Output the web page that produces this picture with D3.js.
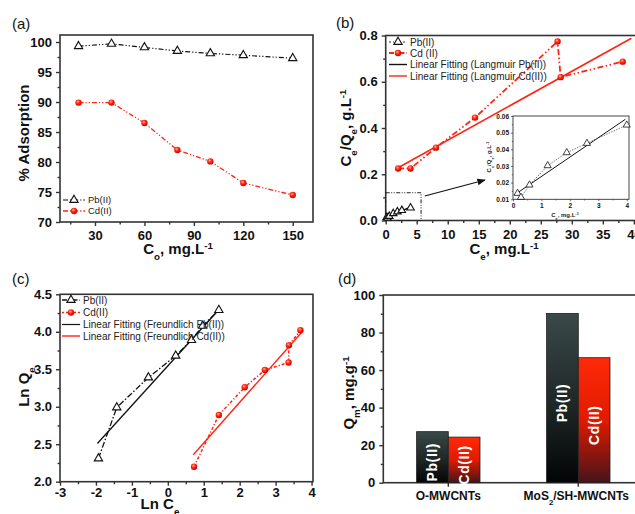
<!DOCTYPE html>
<html>
<head>
<meta charset="utf-8">
<script src="https://cdn.jsdelivr.net/npm/d3@7"></script>
<style>
  body { margin: 0; background: #fff; }
  svg { font-family: "Liberation Sans", Arial, sans-serif; }
  .tick text { font-weight: bold; fill: #111; }
  .tick line { stroke: #333; }
</style>
</head>
<body>
<div id="chart"></div>
<script>
// (a) % adsorption vs initial concentration
var concA = [20, 40, 60, 80, 100, 120, 150];
var pbAdsorption = [99.3, 99.7, 99.1, 98.5, 98.1, 97.8, 97.3];
var cdAdsorption = [89.9, 89.9, 86.5, 82.0, 80.1, 76.5, 74.5];
var ticksAx = [30, 60, 90, 120, 150];
var ticksAy = [70, 75, 80, 85, 90, 95, 100];

// (b) Langmuir
var pbCe = [0.16, 0.28, 0.58, 1.22, 1.89, 2.6, 4.0];
var pbCeQe = [0.0136, 0.0112, 0.0186, 0.0302, 0.038, 0.0436, 0.0546];
var cdCe = [2.0, 4.0, 8.1, 14.4, 27.7, 28.2, 38.2];
var cdCeQe = [0.225, 0.225, 0.315, 0.445, 0.774, 0.62, 0.687];
var langmuirPbFit = [[0.08, 0.013], [3.95, 0.058]];
var langmuirCdFit = [[2.0, 0.228], [39.6, 0.788]];
var ticksBx = [0, 5, 10, 15, 20, 25, 30, 35, 40];
var ticksBy = [0, 0.2, 0.4, 0.6, 0.8];
var insetTicksX = [0, 1, 2, 3, 4];
var insetTicksY = [0.01, 0.02, 0.03, 0.04, 0.05, 0.06];

// (c) Freundlich
var pbLnCe = [-1.93, -1.42, -0.54, 0.22, 0.66, 0.97, 1.42];
var pbLnQe = [2.31, 2.99, 3.39, 3.68, 3.89, 4.08, 4.29];
var cdLnCe = [0.73, 1.42, 2.14, 2.70, 3.36, 3.37, 3.69];
var cdLnQe = [2.20, 2.89, 3.26, 3.49, 3.59, 3.82, 4.02];
var freundlichPbFit = [[-1.96, 2.51], [1.45, 4.31]];
var freundlichCdFit = [[0.71, 2.36], [3.72, 3.99]];
var ticksCx = [-3, -2, -1, 0, 1, 2, 3, 4];
var ticksCy = [2.0, 2.5, 3.0, 3.5, 4.0, 4.5];

// (d) maximum capacity
var materials = ["O-MWCNTs", "MoS2/SH-MWCNTs"];
var qmPb = [27.2, 90.2];
var qmCd = [24.3, 66.6];
var ticksDy = [0, 20, 40, 60, 80, 100];

var red = "#ff2414";
var dashDotDot = "5,2,1.2,2,1.2,2";
var plainNum = function(d) { return String(d); };

var svg = d3.select("#chart").append("svg")
  .attr("width", 635)
  .attr("height", 514);

var defs = svg.append("defs");
var ball = defs.append("radialGradient").attr("id", "ball")
  .attr("cx", "40%").attr("cy", "35%").attr("r", "65%");
ball.append("stop").attr("offset", "0%").attr("stop-color", "#ffb0a0");
ball.append("stop").attr("offset", "45%").attr("stop-color", "#ff2a10");
ball.append("stop").attr("offset", "100%").attr("stop-color", "#d00000");

var gradPb = defs.append("linearGradient").attr("id", "gradPb")
  .attr("x1", 0).attr("y1", 0).attr("x2", 0).attr("y2", 1);
gradPb.append("stop").attr("offset", "0%").attr("stop-color", "#3a4949");
gradPb.append("stop").attr("offset", "55%").attr("stop-color", "#1e2626");
gradPb.append("stop").attr("offset", "100%").attr("stop-color", "#030505");
var gradCd = defs.append("linearGradient").attr("id", "gradCd")
  .attr("x1", 0).attr("y1", 0).attr("x2", 0).attr("y2", 1);
gradCd.append("stop").attr("offset", "0%").attr("stop-color", "#ff2a08");
gradCd.append("stop").attr("offset", "50%").attr("stop-color", "#e01a00");
gradCd.append("stop").attr("offset", "100%").attr("stop-color", "#45141a");

var triangle = d3.symbol().type(d3.symbolTriangle).size(30);

function zip(xs, ys) {
  return xs.map(function(v, i) { return [v, ys[i]]; });
}

// text with sub/superscripts: parts = [[text, "sub"|"super"|null], ...]
function richText(g, parts, attrs) {
  var t = g.append("text");
  Object.keys(attrs).forEach(function(k) { t.attr(k, attrs[k]); });
  parts.forEach(function(p) {
    var s = t.append("tspan").text(p[0]);
    if (p[1]) s.attr("baseline-shift", p[1]).attr("font-size", "65%");
  });
  return t;
}

function drawAxes(g, x, y, cfg) {
  var bottom = y.range()[0], left = x.range()[0];
  var fs = cfg.fontSize || 13;
  if (cfg.xMinor) {
    g.append("g").attr("transform", "translate(0," + bottom + ")")
      .call(d3.axisBottom(x).tickValues(cfg.xMinor).tickSize(cfg.minorSize || 2.5).tickFormat(""))
      .call(function(a) { a.select(".domain").remove(); });
  }
  if (cfg.yMinor) {
    g.append("g").attr("transform", "translate(" + left + ",0)")
      .call(d3.axisLeft(y).tickValues(cfg.yMinor).tickSize(cfg.minorSize || 2.5).tickFormat(""))
      .call(function(a) { a.select(".domain").remove(); });
  }
  var xa = g.append("g").attr("transform", "translate(0," + bottom + ")")
    .call(d3.axisBottom(x).tickValues(cfg.xTicks).tickSize(cfg.tickSize || 4)
      .tickPadding(cfg.xPad || 6).tickFormat(cfg.xFormat || plainNum));
  xa.select(".domain").remove();
  xa.selectAll("text").attr("font-size", fs).attr("font-family", null);
  var ya = g.append("g").attr("transform", "translate(" + left + ",0)")
    .call(d3.axisLeft(y).tickValues(cfg.yTicks).tickSize(cfg.tickSize || 4)
      .tickPadding(cfg.yPad || 4).tickFormat(cfg.yFormat || plainNum));
  ya.select(".domain").remove();
  ya.selectAll("text").attr("font-size", fs).attr("font-family", null);
  if (cfg.noXLabels) xa.selectAll("text").remove();
  g.selectAll(".tick line").attr("stroke-width", cfg.tickWidth || 1.4);

  g.append("rect")
    .attr("x", left).attr("y", y.range()[1])
    .attr("width", x.range()[1] - left).attr("height", bottom - y.range()[1])
    .attr("fill", "none").attr("stroke", "#333").attr("stroke-width", cfg.frameWidth || 1.6);
}

function drawSeries(g, x, y, pts, opts) {
  g.append("path")
    .attr("d", d3.line().x(function(d) { return x(d[0]); }).y(function(d) { return y(d[1]); })(pts))
    .attr("fill", "none").attr("stroke", opts.color)
    .attr("stroke-width", opts.width || 1.2)
    .attr("stroke-dasharray", opts.dash || null);
  if (opts.marker === "tri") {
    g.selectAll(null).data(pts).enter().append("path")
      .attr("d", d3.symbol().type(d3.symbolTriangle).size(opts.size || 30))
      .attr("transform", function(d) { return "translate(" + x(d[0]) + "," + y(d[1]) + ")"; })
      .attr("fill", "#fff").attr("stroke", "#111").attr("stroke-width", opts.markerWidth || 1.1);
  } else if (opts.marker === "ball") {
    g.selectAll(null).data(pts).enter().append("circle")
      .attr("cx", function(d) { return x(d[0]); })
      .attr("cy", function(d) { return y(d[1]); })
      .attr("r", opts.r || 3.2)
      .attr("fill", "url(#ball)");
  }
}

function drawLegend(g, items, x0, x1, tx, fs) {
  items.forEach(function(it) {
    g.append("line").attr("x1", x0).attr("x2", x1).attr("y1", it.y).attr("y2", it.y)
      .attr("stroke", it.color).attr("stroke-width", it.width || 1.2)
      .attr("stroke-dasharray", it.dash || null);
    var mx = (x0 + x1) / 2;
    if (it.marker === "tri") {
      g.append("path").attr("d", triangle).attr("transform", "translate(" + mx + "," + it.y + ")")
        .attr("fill", "#fff").attr("stroke", "#111").attr("stroke-width", 1.1);
    } else if (it.marker === "ball") {
      g.append("circle").attr("cx", mx).attr("cy", it.y).attr("r", 3.2).attr("fill", "url(#ball)");
    }
    g.append("text").attr("x", tx).attr("y", it.y).attr("dy", "0.35em")
      .attr("font-size", fs).attr("fill", "#222").text(it.label);
  });
}

function panelLabel(text, x, y) {
  svg.append("text").attr("x", x).attr("y", y).attr("font-size", 15).attr("fill", "#111").text(text);
}

drawPanelA();
drawPanelB();
drawPanelC();
drawPanelD();

function drawPanelA() {
  var g = svg.append("g");
  var x = d3.scaleLinear().domain([8.76, 162.3]).range([60, 313]);
  var y = d3.scaleLinear().domain([70, 101.17]).range([222, 35]);
  drawAxes(g, x, y, {
    xTicks: ticksAx, yTicks: ticksAy, xPad: 5,
    xMinor: d3.range(15, 165, 30), yMinor: d3.range(72.5, 101, 5)
  });
  drawSeries(g, x, y, zip(concA, pbAdsorption), { color: "#111", dash: dashDotDot, marker: "tri" });
  drawSeries(g, x, y, zip(concA, cdAdsorption), { color: red, dash: dashDotDot, width: 1.3, marker: "ball" });
  drawLegend(g, [
    { y: 200, color: "#111", dash: "5,2,1.2,2", marker: "tri", label: "Pb(II)" },
    { y: 211, color: red, dash: "5,2,1.2,2", width: 1.3, marker: "ball", label: "Cd(II)" }
  ], 63, 85, 88, 9.5);
  panelLabel("(a)", 12, 29);
  richText(g, [["% Adsorption", null]], {
    transform: "translate(29,133) rotate(-90)", "text-anchor": "middle",
    "font-size": 15, "font-weight": "bold", fill: "#111"
  });
  richText(g, [["C", null], ["o", "sub"], [", mg.L", null], ["-1", "super"]], {
    x: 178, y: 254, "text-anchor": "middle", "font-size": 15, "font-weight": "bold", fill: "#111"
  });
}

function drawPanelB() {
  var g = svg.append("g");
  var x = d3.scaleLinear().domain([0, 42.6]).range([385.7, 650]);
  var y = d3.scaleLinear().domain([0, 0.8]).range([220.5, 35.5]);
  drawAxes(g, x, y, {
    xTicks: ticksBx, yTicks: ticksBy, xPad: 5,
    xMinor: d3.range(2.5, 42, 5), yMinor: [0.1, 0.3, 0.5, 0.7],
    yFormat: d3.format(".1f")
  });

  // zoom box and arrow
  g.append("rect").attr("x", x(0)).attr("y", y(0.12))
    .attr("width", x(5.7) - x(0)).attr("height", y(0) - y(0.12))
    .attr("fill", "none").attr("stroke", "#222").attr("stroke-width", 1)
    .attr("stroke-dasharray", "4,1.5,1,1.5,1,1.5");
  defs.append("marker").attr("id", "arrow").attr("viewBox", "0 0 10 10")
    .attr("refX", 9).attr("refY", 5).attr("markerWidth", 7).attr("markerHeight", 7)
    .attr("orient", "auto-start-reverse")
    .append("path").attr("d", "M0,1 L10,5 L0,9 Z").attr("fill", "#111");
  g.append("line").attr("x1", x(6.3)).attr("y1", y(0.106)).attr("x2", x(16.0)).attr("y2", y(0.175))
    .attr("stroke", "#111").attr("stroke-width", 1.2).attr("marker-end", "url(#arrow)");

  drawSeries(g, x, y, langmuirCdFit, { color: red, width: 1.6 });
  drawSeries(g, x, y, langmuirPbFit, { color: "#111", width: 1.2 });
  drawSeries(g, x, y, zip(pbCe, pbCeQe), { color: "#111", dash: "2,1.5", width: 0.9, marker: "tri", size: 24 });
  drawSeries(g, x, y, zip(cdCe, cdCeQe), { color: red, dash: "6,2.5,1.5,2.5,1.5,2.5", width: 1.8, marker: "ball" });

  drawLegend(g, [
    { y: 42, color: "#111", dash: "2,2,1,2", width: 0.9, marker: "tri", label: "Pb(II)" },
    { y: 53, color: red, dash: "5,2,1.5,2", width: 1.8, marker: "ball", label: "Cd (II)" },
    { y: 64.5, color: "#111", width: 1.4, label: "Linear Fitting (Langmuir Pb(II))" },
    { y: 76, color: red, width: 1.4, label: "Linear Fitting (Langmuir Cd(II))" }
  ], 389, 407, 410, 10);

  panelLabel("(b)", 336, 28);
  richText(g, [["C", null], ["e", "sub"], ["/Q", null], ["e", "sub"], [", g.L", null], ["-1", "super"]], {
    transform: "translate(351,128) rotate(-90)", "text-anchor": "middle",
    "font-size": 15, "font-weight": "bold", fill: "#111"
  });
  richText(g, [["C", null], ["e", "sub"], [", mg.L", null], ["-1", "super"]], {
    x: 504, y: 254, "text-anchor": "middle", "font-size": 15, "font-weight": "bold", fill: "#111"
  });

  drawInset();
}

function drawInset() {
  var g = svg.append("g");
  var x = d3.scaleLinear().domain([0, 4.08]).range([513, 629]);
  var y = d3.scaleLinear().domain([0.01, 0.06]).range([199.3, 116]);
  g.append("rect").attr("x", 513).attr("y", 116).attr("width", 116).attr("height", 83.3).attr("fill", "#fff");
  drawAxes(g, x, y, {
    xTicks: insetTicksX, yTicks: insetTicksY, fontSize: 6.5,
    xMinor: [0.5, 1.5, 2.5, 3.5], yMinor: [0.015, 0.025, 0.035, 0.045, 0.055],
    tickSize: 2, minorSize: 1.2, xPad: 2, yPad: 2, tickWidth: 0.7, frameWidth: 0.9,
    yFormat: d3.format(".2f")
  });
  drawSeries(g, x, y, langmuirPbFit, { color: "#111", width: 1 });
  drawSeries(g, x, y, zip(pbCe, pbCeQe), { color: "#555", dash: "1.5,1.2", width: 0.8, marker: "tri", size: 22, markerWidth: 0.8 });
  richText(g, [["C", null], ["e", "sub"], ["/Q", null], ["e", "sub"], [", g.L", null], ["-1", "super"]], {
    transform: "translate(491,157) rotate(-90)", "text-anchor": "middle",
    "font-size": 6, "font-weight": "bold", fill: "#222"
  });
  richText(g, [["C", null], ["e", "sub"], [", mg.L", null], ["-1", "super"]], {
    x: 565, y: 217, "text-anchor": "middle", "font-size": 6, "font-weight": "bold", fill: "#222"
  });
}

function drawPanelC() {
  var g = svg.append("g");
  var x = d3.scaleLinear().domain([-3, 4.04]).range([60, 313]);
  var y = d3.scaleLinear().domain([2, 4.5]).range([481.7, 294.3]);
  drawAxes(g, x, y, {
    xTicks: ticksCx, yTicks: ticksCy, xPad: 2,
    xMinor: d3.range(-2.5, 4, 1), yMinor: d3.range(2.25, 4.5, 0.5),
    yFormat: d3.format(".1f")
  });
  drawSeries(g, x, y, freundlichPbFit, { color: "#111", width: 1.3 });
  drawSeries(g, x, y, freundlichCdFit, { color: red, width: 1.4 });
  drawSeries(g, x, y, zip(pbLnCe, pbLnQe), { color: "#111", dash: "6,2,1.5,2", width: 1.3, marker: "tri" });
  drawSeries(g, x, y, zip(cdLnCe, cdLnQe), { color: red, dash: "3,2,1.2,2", width: 1.5, marker: "ball" });

  drawLegend(g, [
    { y: 300, color: "#111", dash: "5,2,1.5,2", width: 1.3, marker: "tri", label: "Pb(II)" },
    { y: 312.5, color: red, dash: "2,2", width: 1.5, marker: "ball", label: "Cd(II)" },
    { y: 324.5, color: "#111", width: 1.2, label: "Linear Fitting (Freundlich Pb(II))" },
    { y: 336, color: red, width: 1.4, label: "Linear Fitting (Freundlich Cd(II))" }
  ], 62, 80, 83, 10);

  panelLabel("(c)", 12, 284);
  richText(g, [["Ln Q", null], ["e", "sub"]], {
    transform: "translate(29,387) rotate(-90)", "text-anchor": "middle",
    "font-size": 15, "font-weight": "bold", fill: "#111"
  });
  richText(g, [["Ln C", null], ["e", "sub"]], {
    x: 160, y: 509, "text-anchor": "middle", "font-size": 15, "font-weight": "bold", fill: "#111"
  });
}

function drawPanelD() {
  var g = svg.append("g");
  var x = d3.scaleBand().domain(materials).range([383.3, 643.3]);
  var y = d3.scaleLinear().domain([0, 100]).range([482.7, 295]);
  drawAxes(g, x, y, {
    xTicks: materials, yTicks: ticksDy, yMinor: d3.range(10, 100, 20), noXLabels: true
  });

  var barW = 31.7;
  var bars = [];
  materials.forEach(function(m, i) {
    bars.push({ m: m, v: qmPb[i], dx: -barW, fill: "url(#gradPb)", label: "Pb(II)" });
    bars.push({ m: m, v: qmCd[i], dx: 0, fill: "url(#gradCd)", label: "Cd(II)" });
  });
  var cx = function(d) { return x(d.m) + x.bandwidth() / 2 + d.dx; };
  g.selectAll(".bar").data(bars).enter().append("rect")
    .attr("class", "bar")
    .attr("x", cx)
    .attr("y", function(d) { return y(d.v); })
    .attr("width", barW)
    .attr("height", function(d) { return y(0) - y(d.v); })
    .attr("fill", function(d) { return d.fill; })
    .attr("stroke", "#222").attr("stroke-width", 0.8);
  g.selectAll(".barlabel").data(bars).enter().append("text")
    .attr("class", "barlabel")
    .attr("transform", function(d) {
      var ty = (y(d.v) + y(0)) / 2 + 5;
      return "translate(" + (cx(d) + barW / 2) + "," + ty + ") rotate(-90)";
    })
    .attr("text-anchor", "middle").attr("dy", "0.36em")
    .attr("font-size", 14).attr("font-weight", "bold").attr("fill", "#fff")
    .attr("letter-spacing", 0.6)
    .text(function(d) { return d.label; });

  var lx = function(m) { return x(m) + x.bandwidth() / 2; };
  richText(g, [["O-MWCNTs", null]], {
    x: lx(materials[0]), y: 500, "text-anchor": "middle", "font-size": 12, "font-weight": "bold", fill: "#111"
  });
  richText(g, [["MoS", null], ["2", "sub"], ["/SH-MWCNTs", null]], {
    x: lx(materials[1]) - 2, y: 500, "text-anchor": "middle", "font-size": 12, "font-weight": "bold", fill: "#111"
  });

  panelLabel("(d)", 338, 284);
  richText(g, [["Q", null], ["m", "sub"], [", mg.g", null], ["-1", "super"]], {
    transform: "translate(354,393) rotate(-90)", "text-anchor": "middle",
    "font-size": 15, "font-weight": "bold", fill: "#111"
  });
}
</script>
</body>
</html>
